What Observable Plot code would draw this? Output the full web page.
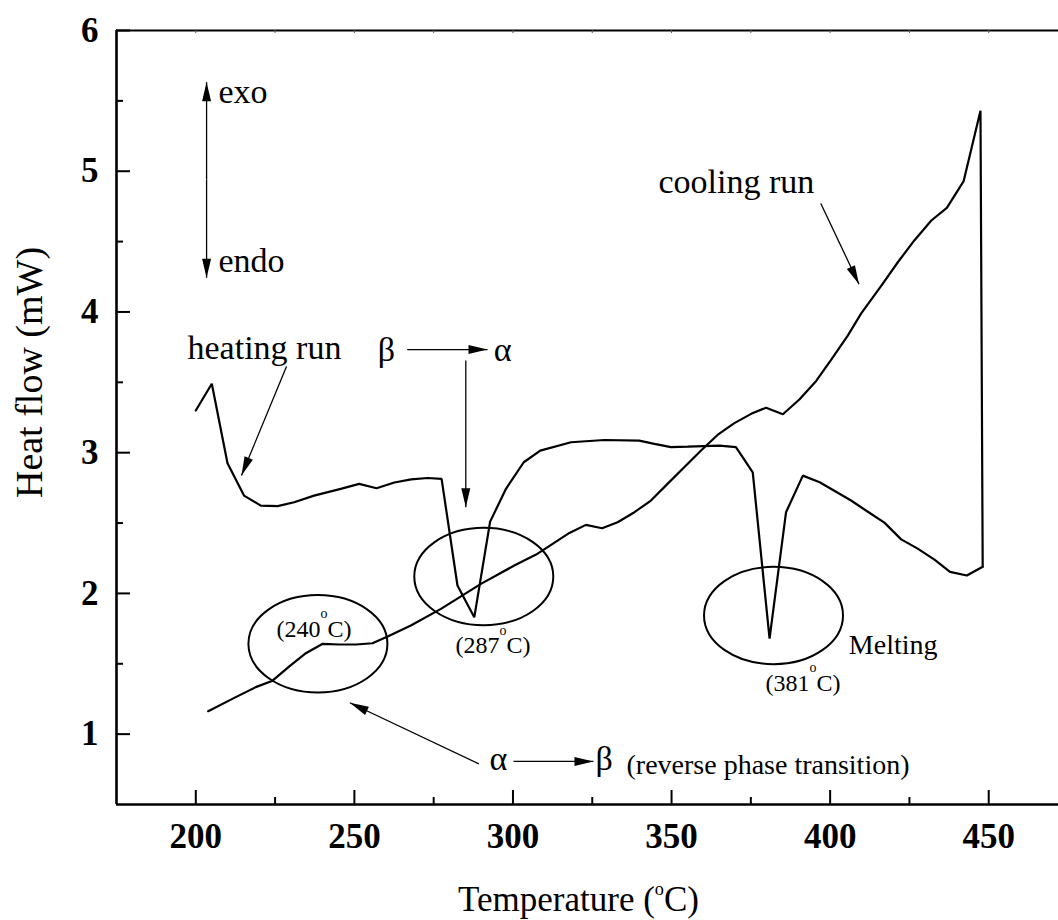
<!DOCTYPE html>
<html>
<head>
<meta charset="utf-8">
<script src="https://cdn.jsdelivr.net/npm/d3@7"></script>
<script src="https://cdn.jsdelivr.net/npm/@observablehq/plot@0.6"></script>
<style>
html, body { margin: 0; padding: 0; background: #fff; overflow: hidden; }
</style>
</head>
<body>
<div id="chart"></div>
<script>
// ---- data (temperature in °C, heat flow in mW) ----
const heatingT = [200, 205.05, 210, 215.2, 220.5, 225.8, 231, 237.3, 245.7, 251.5, 257, 262.6, 267.9, 273.1, 277.5,
  282.5, 287.8, 292.8, 297.8, 303.4, 308.6, 318.3, 328.8, 339.8, 344.6, 349.8, 355.1, 365.1, 370.3, 375.6,
  380.9, 386.1, 391.4, 396.7, 406.6, 411.9, 417.1, 422.4, 427.6, 432.9, 437.8, 443.1, 448.1];
const heatingQ = [3.30, 3.49, 2.925, 2.695, 2.624, 2.62, 2.648, 2.695, 2.743, 2.778, 2.747, 2.788, 2.81, 2.82, 2.814,
  2.056, 1.83, 2.51, 2.743, 2.932, 3.015, 3.074, 3.09, 3.086, 3.063, 3.04, 3.043, 3.05, 3.04, 2.86,
  1.678, 2.577, 2.837, 2.79, 2.66, 2.58, 2.503, 2.384, 2.318, 2.24, 2.153, 2.127, 2.19];

const coolingT = [448.1, 447.4, 442.1, 436.8, 431.9, 426.6, 421.4, 416.1, 409.8, 405.5, 400.3, 395.6, 390.3, 385.1,
  379.8, 375.1, 369.8, 364.5, 359.3, 354, 348.8, 343.5, 338.3, 333, 328.1, 323, 317.8, 312.5, 307.3, 300.4,
  289.9, 277.3, 267.8, 260.5, 255.7, 250.5, 245.2, 240, 234.7, 229.4, 224.2, 218.9, 212.6, 203.9];
const coolingQ = [2.19, 5.43, 4.93, 4.74, 4.65, 4.51, 4.355, 4.185, 3.99, 3.83, 3.66, 3.51, 3.378, 3.273,
  3.32, 3.276, 3.21, 3.126, 3.015, 2.896, 2.78, 2.66, 2.577, 2.506, 2.463, 2.487, 2.43, 2.352, 2.276, 2.198,
  2.068, 1.89, 1.772, 1.694, 1.646, 1.637, 1.637, 1.642, 1.575, 1.48, 1.38, 1.334, 1.263, 1.163];

const xTicks = [200, 250, 300, 350, 400, 450];
const xMinorTicks = [225, 275, 325, 375, 425];
const xTopTicks = [200, 225, 250, 275, 300, 325, 350, 375, 400, 425, 450];
const yTicks = [1, 2, 3, 4, 5, 6];
const yMinorTicks = [1.5, 2.5, 3.5, 4.5, 5.5];

// circled transitions (centres in data units)
const circleT = [238.5, 290.8, 382.15];
const circleQ = [1.642, 2.12, 1.843];

// annotation arrows (data units)
const arrowsData = [
  {x1: 203.4, y1: 4.94, x2: 203.4, y2: 5.633},
  {x1: 203.4, y1: 4.94, x2: 203.4, y2: 4.243},
  {x1: 228.6, y1: 3.612, x2: 214.4, y2: 2.838},
  {x1: 266.65, y1: 3.733, x2: 291.97, y2: 3.733},
  {x1: 285.13, y1: 3.655, x2: 285.13, y2: 2.613},
  {x1: 397.06, y1: 4.771, x2: 409.1, y2: 4.197},
  {x1: 300.17, y1: 0.806, x2: 325.39, y2: 0.806},
  {x1: 289.23, y1: 0.789, x2: 248.56, y2: 1.223}
];

// annotation labels
const bigLabels = [
  {text: "exo", x: 207.16, y: 5.483},
  {text: "endo", x: 207.16, y: 4.284},
  {text: "heating run", x: 197.39, y: 3.669},
  {text: "β", x: 257.4, y: 3.655},
  {text: "α", x: 293.96, y: 3.655},
  {text: "cooling run", x: 345.89, y: 4.844},
  {text: "α", x: 292.6, y: 0.742},
  {text: "β", x: 326.02, y: 0.742}
];
const midLabels = [
  {text: "Melting", x: 405.89, y: 1.566},
  {text: "(reverse phase transition)", x: 335.8, y: 0.72}
];
const smallLabels = [
  {text: "(240^oC)", x: 225.45, y: 1.689},
  {text: "(287^oC)", x: 281.88, y: 1.573},
  {text: "(381^oC)", x: 379.62, y: 1.305}
];

const heating = heatingT.map((t, i) => ({t, q: heatingQ[i]}));
const cooling = coolingT.map((t, i) => ({t, q: coolingQ[i]}));
const circles = circleT.map((t, i) => ({t, q: circleQ[i]}));

// ---- helpers ----
function headMarker(color, context) {
  const ns = "http://www.w3.org/2000/svg";
  const doc = (context && context.document) || document;
  const m = doc.createElementNS(ns, "marker");
  m.setAttribute("viewBox", "-20 -5 21 10");
  m.setAttribute("markerWidth", 21);
  m.setAttribute("markerHeight", 10);
  m.setAttribute("markerUnits", "userSpaceOnUse");
  m.setAttribute("refX", 0);
  m.setAttribute("refY", 0);
  m.setAttribute("orient", "auto");
  const p = doc.createElementNS(ns, "path");
  p.setAttribute("d", "M0,0L-19,-4.5L-19,4.5Z");
  p.setAttribute("fill", "black");
  p.setAttribute("stroke", "none");
  m.appendChild(p);
  return m;
}
let head = headMarker;
try { Plot.link([], {x1: 0, y1: 0, x2: 0, y2: 0, markerEnd: headMarker}); } catch (e) { head = "arrow"; }

const ellipseSymbol = {
  draw(ctx) {
    const rx = 69.5, ry = 48.7, k = 0.5523;
    ctx.moveTo(rx, 0);
    ctx.bezierCurveTo(rx, ry * k, rx * k, ry, 0, ry);
    ctx.bezierCurveTo(-rx * k, ry, -rx, ry * k, -rx, 0);
    ctx.bezierCurveTo(-rx, -ry * k, -rx * k, -ry, 0, -ry);
    ctx.bezierCurveTo(rx * k, -ry, rx, -ry * k, rx, 0);
    ctx.closePath();
  }
};

const W = 1058, H = 920, ML = 116, MR = 0, MT = 30, MB = 116;
const FW = W - ML - MR, FH = H - MT - MB;
const serif = "'Liberation Serif', 'Times New Roman', Times, serif";

const chart = Plot.plot({
  width: W,
  height: H,
  marginLeft: ML,
  marginRight: MR,
  marginTop: MT,
  marginBottom: MB,
  style: {fontFamily: serif, fontSize: "34px", background: "white", color: "black"},
  x: {domain: [175, 472]},
  y: {domain: [0.5, 6]},
  marks: [
    // frame
    Plot.ruleY([6], {stroke: "black", strokeWidth: 2}),
    Plot.ruleY([0.5], {stroke: "black", strokeWidth: 2.6}),
    Plot.ruleX([175], {stroke: "black", strokeWidth: 2.6}),
    // inward ticks
    Plot.tickY(yTicks, {y: d => d, insetRight: FW - 14, stroke: "black", strokeWidth: 2}),
    Plot.tickY(yMinorTicks, {y: d => d, insetRight: FW - 7, stroke: "black", strokeWidth: 2}),
    Plot.tickX(xTicks, {x: d => d, insetTop: FH - 14, stroke: "black", strokeWidth: 2}),
    Plot.tickX(xMinorTicks, {x: d => d, insetTop: FH - 7, stroke: "black", strokeWidth: 2}),
    Plot.tickX(xTopTicks, {x: d => d, insetBottom: FH - 3, stroke: "#555", strokeWidth: 1}),
    // tick labels
    Plot.axisY({ticks: yTicks, tickSize: 0, tickPadding: 18, tickFormat: d => String(d),
      fontFamily: serif, fontSize: 35, fontWeight: "bold", label: null}),
    Plot.axisX({ticks: xTicks, tickSize: 0, tickPadding: 19, tickFormat: d => String(d),
      fontFamily: serif, fontSize: 35, fontWeight: "bold", label: null}),
    // axis titles
    Plot.text(["Temperature (^oC)"], {text: d => d, frameAnchor: "bottom", dx: -9, dy: 106,
      lineAnchor: "bottom", textAnchor: "middle", fontFamily: serif, fontSize: 35}),
    Plot.text(["Heat flow (mW)"], {text: d => d, frameAnchor: "left", dx: -87, dy: -45,
      rotate: -90, textAnchor: "middle", fontFamily: serif, fontSize: 38}),
    // DSC traces
    Plot.line(heating, {x: "t", y: "q", stroke: "black", strokeWidth: 2.2, strokeLinejoin: "miter"}),
    Plot.line(cooling, {x: "t", y: "q", stroke: "black", strokeWidth: 2.2, strokeLinejoin: "miter"}),
    // circled transitions
    Plot.dot(circles, {x: "t", y: "q", symbol: ellipseSymbol, fill: "none", stroke: "black", strokeWidth: 2}),
    // arrows
    Plot.link(arrowsData, {x1: "x1", y1: "y1", x2: "x2", y2: "y2", stroke: "black", strokeWidth: 1.3,
      markerEnd: head}),
    // labels
    Plot.text(bigLabels, {x: "x", y: "y", text: "text", textAnchor: "start", lineAnchor: "bottom",
      fontFamily: serif, fontSize: 34}),
    Plot.text(midLabels, {x: "x", y: "y", text: "text", textAnchor: "start", lineAnchor: "bottom",
      fontFamily: serif, fontSize: 28}),
    Plot.text(smallLabels, {x: "x", y: "y", text: "text", textAnchor: "start", lineAnchor: "bottom",
      fontFamily: serif, fontSize: 24})
  ]
});

document.getElementById("chart").appendChild(chart);

// superscript "o" in degree labels
d3.select(chart).selectAll("text").each(function () {
  const s = this.textContent;
  if (!s.includes("^o")) return;
  const fs = parseFloat(getComputedStyle(this).fontSize);
  const spec = s.startsWith("Temperature") ? {size: 0.52, raise: 0.43} : {size: 0.58, raise: 0.78};
  const [a, b] = s.split("^o");
  const el = d3.select(this);
  el.text(null);
  el.append("tspan").text(a);
  el.append("tspan").attr("font-size", spec.size * fs).attr("dy", -spec.raise * fs).text("o");
  el.append("tspan").attr("dy", spec.raise * fs).text(b);
});
</script>
</body>
</html>
